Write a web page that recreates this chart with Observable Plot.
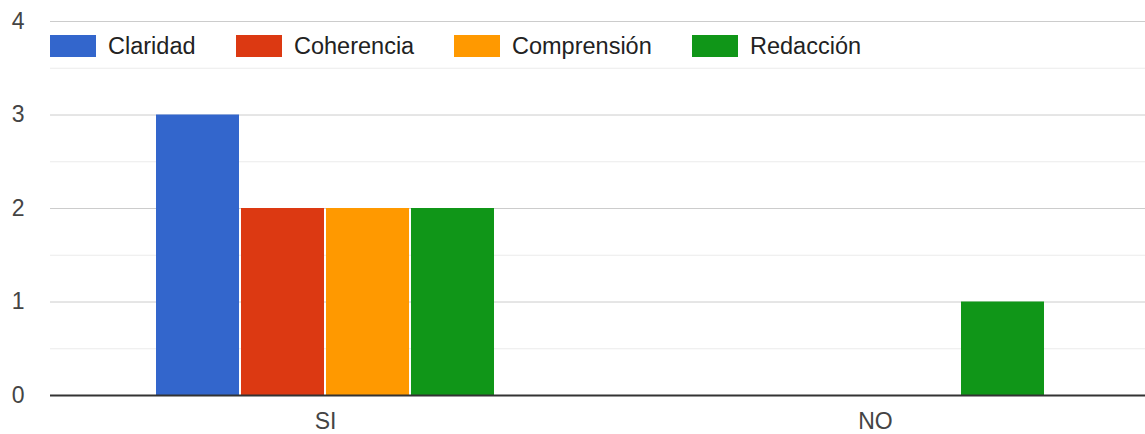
<!DOCTYPE html>
<html>
<head>
<meta charset="utf-8">
<script src="https://cdn.jsdelivr.net/npm/d3@7"></script>
<script src="https://cdn.jsdelivr.net/npm/@observablehq/plot@0.6"></script>
<style>
  html, body { margin: 0; padding: 0; background: #fff; overflow: hidden; }
  #wrap { position: relative; width: 1145px; height: 434px; overflow: hidden; font-family: "Liberation Sans", Arial, sans-serif; }
  #wrap svg { display: block; max-width: none !important; }
  #legend { position: absolute; top: 35px; left: 0; height: 22px; }
  .item { position: absolute; top: 0; display: flex; align-items: center; white-space: nowrap; }
  .sw { width: 46px; height: 22px; margin-right: 12px; }
  .lbl { font-size: 23.5px; color: #222; line-height: 22px; }
</style>
</head>
<body>
<div id="wrap"><div id="legend"></div></div>
<script>
const groups = ["SI", "NO"];
const series = ["Claridad", "Coherencia", "Comprensión", "Redacción"];
const siValues = [3, 2, 2, 2];
const noValues = [0, 0, 0, 1];
const colors = ["#3366cc", "#dc3912", "#ff9900", "#109618"];
const yTicks = [0, 1, 2, 3, 4];
const yMinor = [0.5, 1.5, 2.5, 3.5];
const legendLefts = [50, 236, 454, 692];

const data = [];
series.forEach((s, i) => {
  data.push({group: "SI", series: s, value: siValues[i]});
  data.push({group: "NO", series: s, value: noValues[i]});
});

const chart = Plot.plot({
  width: 1150,
  height: 434,
  marginLeft: 50,
  marginRight: 0,
  marginTop: 21,
  marginBottom: 39,
  style: {fontFamily: "'Liberation Sans', Arial, sans-serif", fontSize: "23px", color: "#444", background: "#fff", maxWidth: "none"},
  fx: {domain: groups, padding: 0, label: null, tickSize: 0, tickPadding: 17},
  x: {domain: series, axis: null, paddingInner: 0.024, paddingOuter: 1.21},
  y: {domain: [0, 4], ticks: yTicks, tickSize: 0, tickPadding: 26, label: null, tickFormat: d3.format("d")},
  color: {domain: series, range: colors},
  marks: [
    Plot.ruleY(yMinor, {stroke: "#ebebeb", strokeWidth: 1}),
    Plot.ruleY(yTicks.filter(d => d > 0), {stroke: "#cccccc", strokeWidth: 1}),
    Plot.barY(data.filter(d => d.value > 0), {fx: "group", x: "series", y: "value", fill: "series"}),
    Plot.ruleY([0], {stroke: "#333333", strokeWidth: 2})
  ]
});
document.getElementById("wrap").prepend(chart);

const legend = document.getElementById("legend");
series.forEach((s, i) => {
  const it = document.createElement("div");
  it.className = "item";
  it.style.left = legendLefts[i] + "px";
  const sw = document.createElement("div");
  sw.className = "sw";
  sw.style.background = colors[i];
  const lb = document.createElement("span");
  lb.className = "lbl";
  lb.textContent = s;
  it.appendChild(sw);
  it.appendChild(lb);
  legend.appendChild(it);
});
</script>
</body>
</html>
